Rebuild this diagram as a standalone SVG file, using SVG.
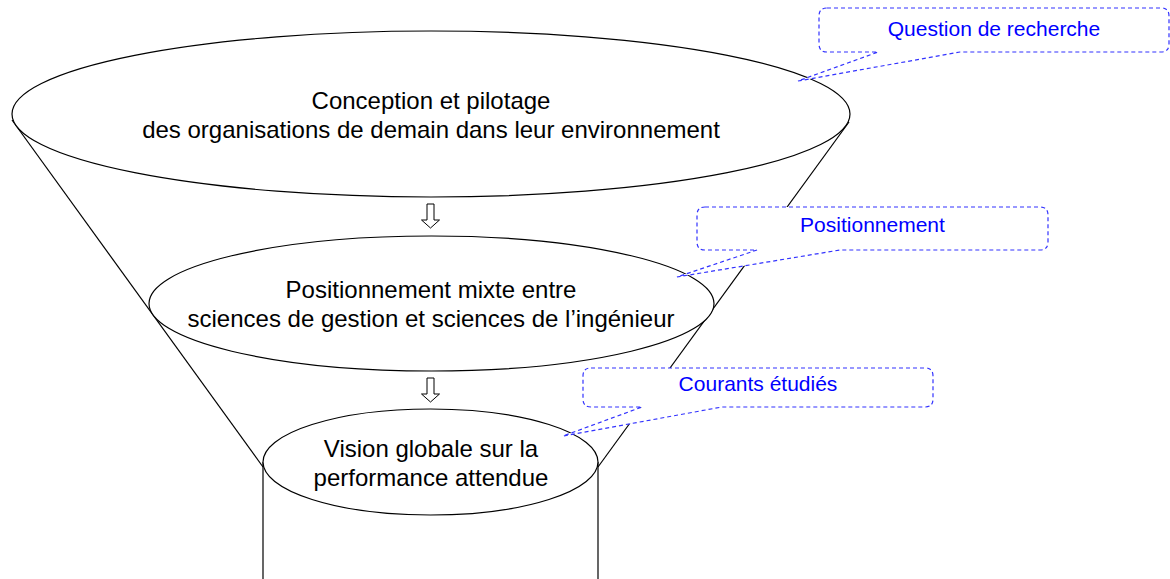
<svg xmlns="http://www.w3.org/2000/svg" width="1170" height="579" viewBox="0 0 1170 579">
<style>
.shape{fill:#fff;stroke:#000;stroke-width:1.2}
.line{fill:none;stroke:#000;stroke-width:1.2}
.main{font-family:"Liberation Sans",Arial,sans-serif;font-size:24px;fill:#000;text-anchor:middle}
.call{fill:#fff;stroke:#3333ff;stroke-width:1.2;stroke-dasharray:4 3}
.ctext{font-family:"Liberation Sans",Arial,sans-serif;font-size:21px;fill:#0000ff;text-anchor:middle}
.arrow{fill:#fff;stroke:#000;stroke-width:1}
</style>
<rect width="1170" height="579" fill="#fff"/>
<g id="funnel">
<line class="line" x1="12" y1="120" x2="263" y2="467"/>
<line class="line" x1="849" y1="122" x2="598" y2="467"/>
<line class="line" x1="263" y1="462" x2="263" y2="579"/>
<line class="line" x1="598" y1="462" x2="598" y2="579"/>
</g>
<g id="node-conception">
<ellipse class="shape" cx="431" cy="114" rx="419" ry="83"/>
<text class="main" x="431" y="109">Conception et pilotage</text>
<text class="main" x="431" y="138">des organisations de demain dans leur environnement</text>
</g>
<g id="node-positionnement">
<ellipse class="shape" cx="431.5" cy="303.5" rx="282.5" ry="67.5"/>
<text class="main" x="431" y="298">Positionnement mixte entre</text>
<text class="main" x="431" y="327">sciences de gestion et sciences de l’ingénieur</text>
</g>
<g id="node-vision">
<ellipse class="shape" cx="430.5" cy="462" rx="167.5" ry="53"/>
<text class="main" x="431" y="457">Vision globale sur la</text>
<text class="main" x="431" y="486">performance attendue</text>
</g>
<g id="connectors">
<polygon class="arrow" points="427,204 434,204 434,220 439.5,220 430.5,228 421.5,220 427,220"/>
<polygon class="arrow" points="427,378 434,378 434,394 439.5,394 430.5,402 421.5,394 427,394"/>
</g>
<g id="callout-question">
<path class="call" d="M827 8H1161Q1169 8 1169 16V44Q1169 52 1161 52H960L798 81L878 52H827Q819 52 819 44V16Q819 8 827 8Z"/>
<text class="ctext" x="994" y="36">Question de recherche</text>
</g>
<g id="callout-positionnement">
<path class="call" d="M705 207H1040Q1048 207 1048 215V242Q1048 250 1040 250H840L677 277L757 250H705Q697 250 697 242V215Q697 207 705 207Z"/>
<text class="ctext" x="872.5" y="232">Positionnement</text>
</g>
<g id="callout-courants">
<path class="call" d="M591 368H925Q933 368 933 376V399Q933 407 925 407H722L563 436L642 407H591Q583 407 583 399V376Q583 368 591 368Z"/>
<text class="ctext" x="758" y="391">Courants étudiés</text>
</g>
</svg>
